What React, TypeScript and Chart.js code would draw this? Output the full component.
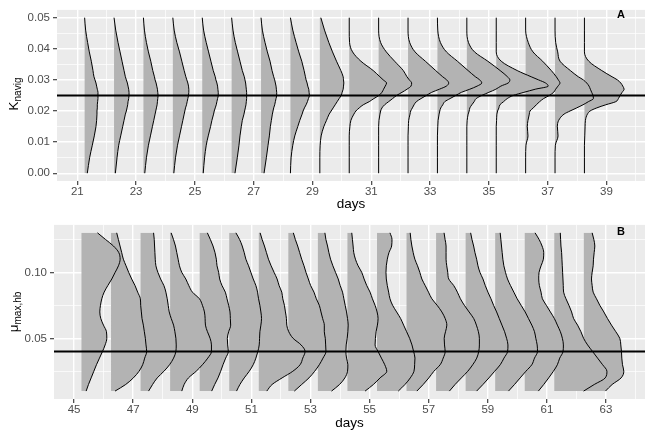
import React, { useEffect, useRef } from "react";
import { Chart, registerables } from "chart.js";

Chart.register(...registerables);

const FONT = "'Liberation Sans', Arial, Helvetica, sans-serif";
const FILL = "#B3B3B3";
const PANEL_BG = "#EBEBEB";
const TICK_TEXT = "#4D4D4D";
const BASE_OFFSET = 0.25;

// ---------- Panel A : K_navig ----------
const DAYS_A = [21, 22, 23, 24, 25, 26, 27, 28, 29, 30, 31, 32, 33, 34, 35, 36, 37, 38];
const K_LEVELS = [0, 0.005, 0.009, 0.012, 0.015, 0.017, 0.019, 0.02, 0.021, 0.022, 0.023, 0.024, 0.025, 0.026, 0.027, 0.028, 0.029, 0.03, 0.031, 0.033, 0.036, 0.039, 0.042, 0.046, 0.05];
const K_DENSITY = [
  [8, 15, 23, 29, 34, 36, 37, 37, 38, 38, 39, 40, 40, 40, 38, 36, 34, 31, 28, 25, 20, 14, 9, 3, 0],
  [4, 9, 14, 20, 26, 30, 34, 37, 39, 41, 42, 44, 45, 45, 44, 42, 40, 37, 34, 30, 24, 18, 12, 5, 0],
  [4, 9, 15, 21, 27, 31, 35, 37, 39, 41, 42, 43, 44, 43, 42, 40, 38, 35, 33, 28, 22, 15, 9, 3, 0],
  [3, 8, 14, 20, 26, 30, 34, 36, 38, 41, 43, 45, 47, 48, 48, 47, 45, 42, 39, 34, 27, 20, 12, 4, 0],
  [3, 7, 12, 18, 25, 29, 34, 36, 39, 42, 44, 46, 48, 48, 47, 46, 44, 41, 39, 33, 26, 19, 12, 4, 0],
  [10, 17, 22, 25, 29, 32, 37, 39, 41, 43, 44, 45, 45, 45, 44, 43, 42, 40, 38, 32, 25, 18, 11, 4, 0],
  [9, 16, 21, 25, 28, 31, 34, 36, 38, 41, 43, 45, 47, 47, 46, 45, 43, 41, 38, 33, 27, 19, 12, 4, 0],
  [0, 2, 7, 13, 22, 28, 35, 38, 42, 47, 51, 54, 57, 56, 55, 52, 50, 47, 45, 41, 34, 25, 17, 7, 0],
  [0, 0, 1, 4, 12, 20, 28, 34, 40, 46, 52, 58, 64, 67, 70, 71, 72, 71, 70, 63, 50, 38, 27, 14, 3],
  [0, 0, 0, 0, 2, 5, 14, 20, 30, 42, 60, 74, 89, 98, 103, 108, 112, 102, 92, 72, 35, 10, 1, 0, 0],
  [0, 0, 0, 0, 0, 1, 4, 6, 10, 18, 30, 42, 54, 70, 85, 97, 99, 92, 85, 74, 48, 23, 6, 0, 0],
  [0, 0, 0, 0, 1, 2, 6, 8, 13, 18, 25, 39, 55, 71, 94, 115, 122, 116, 104, 83, 52, 21, 5, 0, 0],
  [0, 0, 0, 0, 1, 2, 5, 7, 10, 16, 22, 38, 55, 72, 97, 119, 133, 127, 114, 92, 60, 27, 9, 1, 0],
  [0, 0, 0, 0, 0, 1, 4, 7, 9, 15, 22, 28, 45, 66, 87, 102, 124, 129, 122, 100, 63, 23, 5, 0, 0],
  [0, 0, 0, 0, 0, 1, 2, 4, 8, 11, 22, 33, 51, 83, 117, 156, 148, 127, 105, 63, 15, 0, 0, 0, 0],
  [0, 0, 1, 7, 5, 7, 11, 13, 23, 32, 42, 54, 71, 84, 90, 97, 103, 98, 92, 77, 51, 22, 8, 0, 0],
  [0, 0, 1, 9, 7, 11, 27, 45, 65, 84, 100, 115, 114, 110, 106, 102, 95, 85, 70, 46, 15, 8, 2, 0, 0],
  [0, 0, 0, 1, 2, 3, 9, 17, 37, 64, 94, 102, 107, 113, 119, 115, 109, 99, 83, 52, 13, 0, 0, 0, 0],
];
const K_REFERENCE = 0.025;
const A_X_RANGE: [number, number] = [20.31, 40.31];
const A_Y_RANGE: [number, number] = [-0.0025, 0.0525];
const A_X_MAJOR = [21, 23, 25, 27, 29, 31, 33, 35, 37, 39];
const A_X_MINOR = [22, 24, 26, 28, 30, 32, 34, 36, 38, 40];
const A_Y_MAJOR = [0, 0.01, 0.02, 0.03, 0.04, 0.05];
const A_Y_LABELS = ["0.00", "0.01", "0.02", "0.03", "0.04", "0.05"];
const A_Y_MINOR = [0.005, 0.015, 0.025, 0.035, 0.045];

// ---------- Panel B : mu_max,hb ----------
const DAYS_B = [45, 46, 47, 48, 49, 50, 51, 52, 53, 54, 55, 56, 57, 58, 59, 60, 61, 62];
const MU_LEVELS = [0.01, 0.015, 0.02, 0.025, 0.03, 0.035, 0.04, 0.045, 0.05, 0.055, 0.06, 0.065, 0.07, 0.075, 0.08, 0.085, 0.09, 0.095, 0.1, 0.105, 0.11, 0.115, 0.12, 0.125, 0.13];
const MU_DENSITY = [
  [14, 21, 29, 37, 45, 54, 63, 71, 76, 75, 66, 58, 55, 57, 61, 68, 79, 91, 101, 111, 116, 112, 96, 72, 48],
  [12, 44, 67, 84, 95, 101, 107, 105, 103, 100, 97, 93, 91, 89, 88, 80, 72, 62, 53, 45, 37, 32, 27, 22, 17],
  [24, 36, 50, 70, 87, 99, 106, 107, 106, 103, 99, 92, 86, 83, 80, 76, 70, 60, 52, 46, 44, 43, 42, 41, 39],
  [35, 42, 55, 78, 97, 113, 124, 124, 120, 112, 106, 105, 103, 97, 88, 67, 56, 47, 35, 28, 24, 20, 16, 10, 3],
  [36, 45, 55, 63, 70, 78, 86, 84, 83, 87, 93, 92, 91, 87, 82, 77, 67, 60, 57, 52, 50, 46, 40, 32, 23],
  [22, 32, 45, 60, 72, 80, 86, 90, 91, 92, 95, 97, 95, 92, 88, 85, 80, 72, 65, 58, 50, 45, 39, 31, 20],
  [24, 40, 70, 102, 124, 132, 139, 127, 103, 90, 84, 83, 80, 77, 72, 69, 61, 55, 46, 37, 29, 23, 17, 10, 4],
  [18, 40, 62, 79, 93, 104, 113, 112, 111, 108, 108, 103, 98, 93, 84, 77, 67, 60, 53, 47, 40, 34, 28, 21, 15],
  [41, 65, 81, 89, 90, 86, 84, 85, 88, 90, 91, 89, 86, 82, 78, 74, 67, 61, 53, 45, 38, 33, 29, 24, 21],
  [53, 78, 98, 118, 112, 102, 92, 83, 84, 86, 90, 92, 89, 83, 75, 68, 58, 50, 43, 32, 24, 19, 17, 15, 13],
  [64, 84, 100, 111, 113, 114, 110, 105, 98, 89, 80, 71, 59, 47, 39, 35, 31, 28, 27, 28, 31, 36, 44, 45, 39],
  [31, 50, 67, 82, 101, 110, 116, 114, 113, 117, 121, 116, 106, 92, 76, 66, 56, 46, 40, 33, 25, 20, 16, 13, 11],
  [40, 57, 76, 95, 110, 122, 128, 130, 130, 127, 121, 113, 99, 85, 73, 64, 53, 38, 35, 32, 30, 30, 30, 27, 24],
  [33, 52, 70, 87, 104, 115, 126, 127, 123, 117, 109, 101, 93, 84, 76, 67, 59, 52, 43, 37, 33, 28, 24, 19, 15],
  [40, 58, 75, 92, 110, 118, 127, 126, 122, 118, 110, 100, 90, 78, 66, 56, 46, 37, 31, 26, 23, 21, 19, 17, 15],
  [41, 57, 72, 86, 98, 105, 115, 116, 113, 107, 98, 89, 77, 65, 53, 49, 44, 42, 43, 49, 56, 57, 52, 43, 31],
  [88, 120, 153, 158, 145, 130, 115, 100, 88, 80, 70, 58, 52, 44, 35, 28, 27, 26, 25, 24, 23, 22, 20, 19, 18],
  [65, 85, 112, 120, 116, 114, 113, 111, 108, 96, 83, 71, 60, 48, 38, 28, 25, 23, 25, 28, 29, 31, 33, 30, 25],
];
const MU_REFERENCE = 0.04;
const B_X_RANGE: [number, number] = [44.32, 64.32];
const B_Y_RANGE: [number, number] = [0.004, 0.136];
const B_X_MAJOR = [45, 47, 49, 51, 53, 55, 57, 59, 61, 63];
const B_X_MINOR = [46, 48, 50, 52, 54, 56, 58, 60, 62, 64];
const B_Y_MAJOR = [0.05, 0.1];
const B_Y_LABELS = ["0.05", "0.10"];
const B_Y_MINOR = [0.025, 0.075, 0.125];

type Panel = {
  days: number[];
  levels: number[];
  density: number[][];
  unit: number;
  ref: number;
  xRange: [number, number];
  yRange: [number, number];
  xMajor: number[];
  xMinor: number[];
  yMajor: number[];
  yLabels: string[];
  yMinor: number[];
  yAxisWidth: number;
  xAxisHeight: number;
  padTop: number;
  titlePad: number;
};

const near = (a: number, b: number) => Math.abs(a - b) < 1e-9;
const isIn = (arr: number[], v: number) => arr.some((a) => near(a, v));

const panelBg = {
  id: "panelBg",
  beforeDraw(chart: any) {
    const { ctx, chartArea: a } = chart;
    ctx.save();
    ctx.fillStyle = PANEL_BG;
    ctx.fillRect(a.left, a.top, a.right - a.left, a.bottom - a.top);
    ctx.restore();
  },
};

function makeChart(canvas: HTMLCanvasElement, p: Panel) {
  const curves = p.days.map((d, i) => {
    const base = d + BASE_OFFSET;
    return {
      data: p.levels.map((y, k) => ({ x: base + p.density[i][k] * p.unit, y })),
      borderColor: "#000000",
      borderWidth: 1,
      backgroundColor: FILL,
      fill: { value: base },
      pointRadius: 0,
      pointHoverRadius: 0,
      cubicInterpolationMode: "monotone",
      order: 1,
    };
  });
  const refLine = {
    data: [
      { x: p.xRange[0], y: p.ref },
      { x: p.xRange[1], y: p.ref },
    ],
    borderColor: "#000000",
    borderWidth: 2,
    fill: false,
    pointRadius: 0,
    pointHoverRadius: 0,
    order: 0,
  };
  const xTicks = [...p.xMajor, ...p.xMinor].sort((a, b) => a - b);
  const yTicks = [...p.yMajor, ...p.yMinor].sort((a, b) => a - b);

  return new Chart(canvas, {
    type: "line",
    data: { datasets: [refLine, ...curves] as any },
    options: {
      indexAxis: "y",
      animation: false,
      responsive: false,
      devicePixelRatio: 1,
      events: [],
      layout: { padding: { left: 0, right: 3, top: p.padTop, bottom: 0 } },
      plugins: {
        legend: { display: false },
        tooltip: { enabled: false },
        filler: { drawTime: "beforeDatasetsDraw" },
      } as any,
      scales: {
        x: {
          type: "linear",
          position: "bottom",
          min: p.xRange[0],
          max: p.xRange[1],
          afterBuildTicks: (s: any) => {
            s.ticks = xTicks.map((v) => ({ value: v }));
          },
          afterFit: (s: any) => {
            s.height = p.xAxisHeight;
          },
          ticks: {
            autoSkip: false,
            maxRotation: 0,
            minRotation: 0,
            padding: 0,
            color: TICK_TEXT,
            font: { family: FONT, size: 11.5 },
            callback: (v: any) => (isIn(p.xMajor, Number(v)) ? String(v) : ""),
          },
          grid: {
            color: "#FFFFFF",
            lineWidth: (c: any) => (c.tick && isIn(p.xMajor, c.tick.value) ? 1.4 : 0.7),
            drawTicks: true,
            tickLength: 4,
            tickWidth: 1.1,
            tickColor: (c: any) => (c.tick && isIn(p.xMajor, c.tick.value) ? "#333333" : "rgba(0,0,0,0)"),
          },
          border: { display: false },
          title: {
            display: true,
            text: "days",
            color: "#000000",
            font: { family: FONT, size: 13.5 },
            padding: { top: 0, bottom: p.titlePad },
          },
        },
        y: {
          type: "linear",
          position: "left",
          min: p.yRange[0],
          max: p.yRange[1],
          afterBuildTicks: (s: any) => {
            s.ticks = yTicks.map((v) => ({ value: v }));
          },
          afterFit: (s: any) => {
            s.width = p.yAxisWidth;
          },
          ticks: {
            autoSkip: false,
            padding: 3,
            color: TICK_TEXT,
            font: { family: FONT, size: 11.5 },
            callback: (v: any) => {
              const i = p.yMajor.findIndex((a) => near(a, Number(v)));
              return i >= 0 ? p.yLabels[i] : "";
            },
          },
          grid: {
            color: "#FFFFFF",
            lineWidth: (c: any) => (c.tick && isIn(p.yMajor, c.tick.value) ? 1.4 : 0.7),
            drawTicks: true,
            tickLength: 4,
            tickWidth: 1.1,
            tickColor: (c: any) => (c.tick && isIn(p.yMajor, c.tick.value) ? "#333333" : "rgba(0,0,0,0)"),
          },
          border: { display: false },
          title: { display: false },
        },
      } as any,
    },
    plugins: [panelBg],
  });
}

const PANEL_A: Panel = {
  days: DAYS_A,
  levels: K_LEVELS,
  density: K_DENSITY,
  unit: 1 / 88.2,
  ref: K_REFERENCE,
  xRange: A_X_RANGE,
  yRange: A_Y_RANGE,
  xMajor: A_X_MAJOR,
  xMinor: A_X_MINOR,
  yMajor: A_Y_MAJOR,
  yLabels: A_Y_LABELS,
  yMinor: A_Y_MINOR,
  yAxisWidth: 57,
  xAxisHeight: 34,
  padTop: 6,
  titlePad: 3,
};

const PANEL_B: Panel = {
  days: DAYS_B,
  levels: MU_LEVELS,
  density: MU_DENSITY,
  unit: 1 / 88.7,
  ref: MU_REFERENCE,
  xRange: B_X_RANGE,
  yRange: B_Y_RANGE,
  xMajor: B_X_MAJOR,
  xMinor: B_X_MINOR,
  yMajor: B_Y_MAJOR,
  yLabels: B_Y_LABELS,
  yMinor: B_Y_MINOR,
  yAxisWidth: 54,
  xAxisHeight: 32,
  padTop: 9,
  titlePad: 0,
};

const subStyle: React.CSSProperties = { fontSize: "0.74em", lineHeight: 0, verticalAlign: "-0.32em" };

const yTitle = (cx: number, cy: number): React.CSSProperties => ({
  position: "absolute",
  left: cx,
  top: cy,
  transform: "translate(-50%, -50%) rotate(-90deg)",
  font: `13.5px ${FONT}`,
  lineHeight: "13.5px",
  whiteSpace: "nowrap",
  color: "#000000",
});

const tagStyle = (cx: number, cy: number): React.CSSProperties => ({
  position: "absolute",
  left: cx,
  top: cy,
  transform: "translate(-50%, -50%)",
  font: `bold 11px ${FONT}`,
  lineHeight: "11px",
  color: "#000000",
});

export default function App() {
  const refA = useRef<HTMLCanvasElement>(null);
  const refB = useRef<HTMLCanvasElement>(null);

  useEffect(() => {
    const a = makeChart(refA.current as HTMLCanvasElement, PANEL_A);
    const b = makeChart(refB.current as HTMLCanvasElement, PANEL_B);
    return () => {
      a.destroy();
      b.destroy();
    };
  }, []);

  return (
    <div style={{ position: "absolute", left: 0, top: 0, width: 648, height: 431, background: "#FFFFFF", overflow: "hidden" }}>
      <canvas ref={refA} width={648} height={215} style={{ position: "absolute", left: 0, top: 0 }} />
      <canvas ref={refB} width={648} height={216} style={{ position: "absolute", left: 0, top: 215 }} />
      <div style={yTitle(14, 93.5)}>
        K<sub style={subStyle}>navig</sub>
      </div>
      <div style={yTitle(14, 311.5)}>
        μ<sub style={subStyle}>max,hb</sub>
      </div>
      <div style={tagStyle(621, 14)}>A</div>
      <div style={tagStyle(621, 231)}>B</div>
    </div>
  );
}
